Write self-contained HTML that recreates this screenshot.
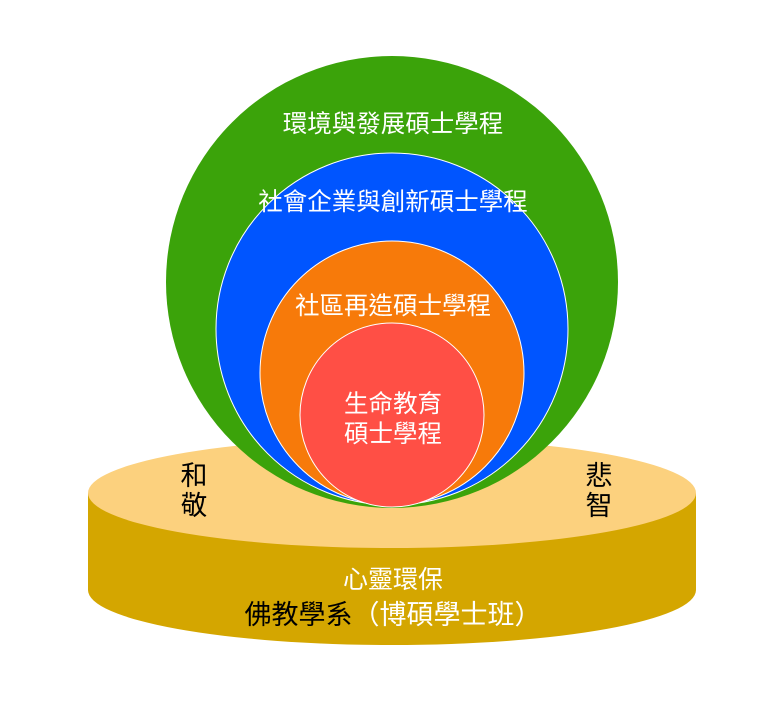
<!DOCTYPE html>
<html><head><meta charset="utf-8"><style>
body{margin:0;background:#fff;width:760px;height:720px;overflow:hidden}
svg text{font-family:"Liberation Sans","Noto Sans CJK TC",sans-serif}
</style></head><body>
<svg width="760" height="720" viewBox="0 0 760 720">
<path d="M88 493 L88 590 A304 55 0 0 0 696 590 L696 493 Z" fill="#d4a600"/>
<ellipse cx="392" cy="493" rx="304" ry="55" fill="#fcd17e"/>
<circle cx="392" cy="282" r="226" fill="#3ba30a"/>
<circle cx="392" cy="329" r="176" fill="#0055ff" stroke="#fff" stroke-width="1"/>
<circle cx="392" cy="373" r="132" fill="#f77a0a" stroke="#fff" stroke-width="1"/>
<circle cx="392" cy="415" r="92" fill="#ff4f45" stroke="#fff" stroke-width="1"/>
<g fill="#fff" font-size="24.5" text-anchor="middle">
<text x="393" y="132">環境與發展碩士學程</text>
<text x="393" y="210">社會企業與創新碩士學程</text>
<text x="393" y="314">社區再造碩士學程</text>
<text x="393" y="412">生命教育</text>
<text x="393" y="442">碩士學程</text>
</g>
<g font-size="27" fill="#000" text-anchor="middle">
<text x="194" y="485">和</text><text x="194" y="515">敬</text>
<text x="599" y="485">悲</text><text x="599" y="515">智</text>
</g>
<text x="393" y="588" font-size="25" fill="#fff" text-anchor="middle">心靈環保</text>
<text x="393" y="624" font-size="27" text-anchor="middle"><tspan fill="#000">佛教學系</tspan><tspan fill="#fff">（博碩學士班）</tspan></text>
</svg>
</body></html>
